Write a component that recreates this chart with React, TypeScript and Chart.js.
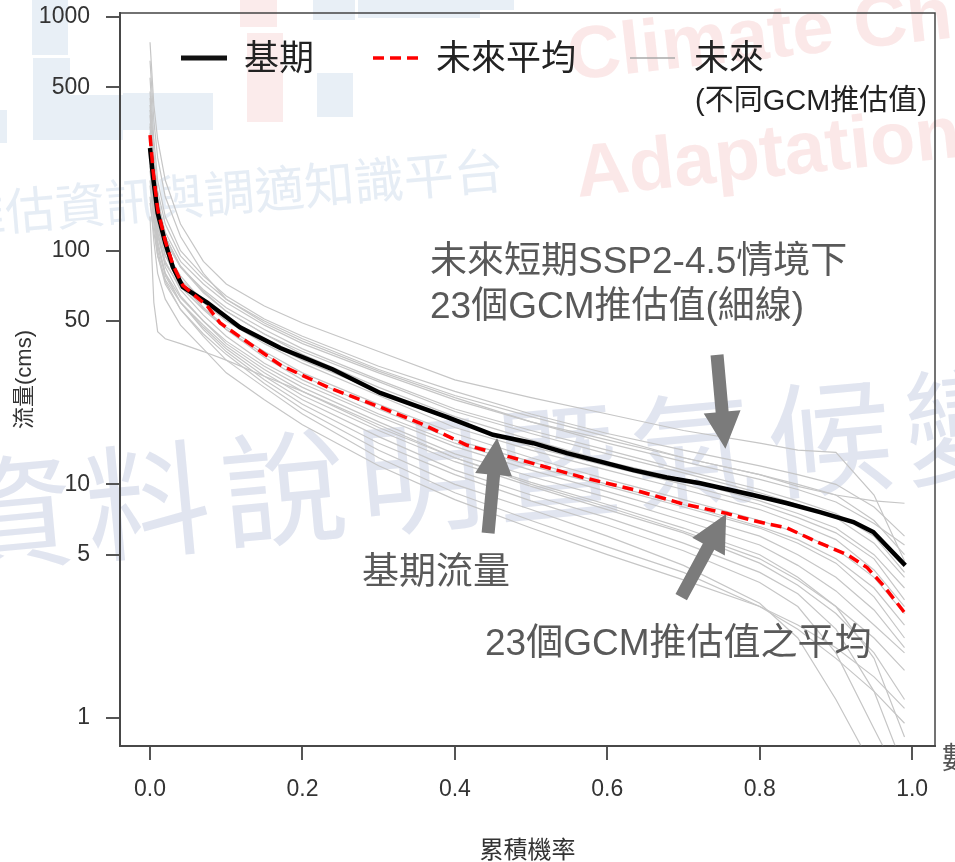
import React, { useEffect, useRef } from "react";
import { Chart, registerables } from "chart.js";
Chart.register(...registerables);

const FONT = '"Liberation Sans", Arial, "Noto Sans CJK TC", sans-serif';

// ---- axes ----
const xTicks = [0, 0.2, 0.4, 0.6, 0.8, 1.0];
const yTicks = [1, 5, 10, 50, 100, 500, 1000];

// ---- baseline (基期) ----
const baseX = [0, 0.004, 0.01, 0.02, 0.03, 0.043, 0.075, 0.118, 0.171, 0.24, 0.302, 0.39, 0.45, 0.503, 0.547, 0.591, 0.634, 0.678, 0.722, 0.791, 0.836, 0.879, 0.923, 0.949, 0.991];
const baseFlow = [275, 206, 145, 108, 85, 70, 60, 47, 38.3, 31, 24.6, 19.4, 16.3, 15.0, 13.6, 12.5, 11.5, 10.7, 10.1, 9.0, 8.3, 7.6, 6.9, 6.25, 4.5];

// ---- future mean (未來平均) ----
const meanX = [0, 0.004, 0.01, 0.02, 0.03, 0.043, 0.075, 0.092, 0.171, 0.236, 0.302, 0.354, 0.416, 0.472, 0.568, 0.634, 0.696, 0.757, 0.791, 0.836, 0.879, 0.915, 0.941, 0.962, 0.991];
const meanFlow = [312, 220, 150, 110, 87, 71, 58, 49, 32.4, 25.8, 21.4, 18.3, 14.7, 13.1, 10.7, 9.5, 8.3, 7.5, 7.0, 6.5, 5.6, 5.0, 4.4, 3.7, 2.8];

// ---- 23 GCM future curves (未來, 不同GCM推估值) ----
const gcmX = [0, 0.005, 0.01, 0.02, 0.04, 0.07, 0.1, 0.15, 0.2, 0.3, 0.4, 0.5, 0.6, 0.7, 0.8, 0.85, 0.9, 0.95, 0.99];
const gcm01 = [780, 420, 300, 200, 130, 90, 72, 58, 49, 37, 28, 23.5, 20, 17, 15, 14, 13.7, 9, 4.7];
const gcm02 = [420, 250, 180, 130, 95, 75, 62, 50, 42, 31, 24, 19.5, 16, 13, 11, 9.8, 9, 8.5, 8.3];
const gcm03 = [550, 300, 200, 140, 100, 78, 64, 51, 43, 32, 25, 20, 16.5, 14, 12, 11, 10, 8, 6];
const gcm04 = [350, 220, 160, 120, 90, 72, 60, 48, 40, 30, 23, 18.5, 15.5, 13, 11, 10, 9, 7, 5];
const gcm05 = [300, 200, 150, 110, 85, 68, 57, 46, 38, 28, 21, 17, 14, 11.5, 9.5, 8.5, 7.5, 6, 4.2];
const gcm06 = [480, 260, 170, 115, 85, 66, 55, 44, 36, 26, 19.5, 15.5, 12.5, 10.5, 8.5, 7.5, 6.5, 5, 3.6];
const gcm07 = [260, 170, 125, 95, 75, 62, 52, 41, 34, 25, 18.5, 14.5, 12, 10, 8.2, 7.2, 6.2, 4.8, 3.2];
const gcm08 = [380, 210, 140, 100, 78, 60, 50, 40, 33, 24, 17.5, 14, 11.5, 9.5, 7.8, 6.8, 5.8, 4.3, 3.0];
const gcm09 = [320, 190, 130, 95, 72, 57, 47, 37, 30, 22, 16.5, 13, 10.5, 8.6, 7, 6.2, 5.3, 4, 2.8];
const gcm10 = [220, 150, 115, 88, 70, 56, 46, 36, 29, 21, 15.5, 12.5, 10, 8.2, 6.6, 5.8, 4.8, 3.6, 2.5];
const gcm11 = [450, 240, 150, 100, 74, 57, 46, 35, 28, 20, 15, 12, 9.8, 8, 6.5, 5.6, 4.6, 3.3, 2.2];
const gcm12 = [280, 170, 120, 90, 68, 53, 43, 33, 27, 19.5, 14.5, 11.5, 9.3, 7.5, 6, 5, 4, 2.9, 2.0];
const gcm13 = [200, 140, 105, 80, 63, 50, 41, 32, 26, 18.5, 13.5, 10.8, 8.8, 7, 5.5, 4.5, 3.5, 2.5, 1.9];
const gcm14 = [340, 180, 120, 85, 64, 50, 40, 31, 25, 17.5, 13, 10.2, 8.2, 6.5, 5.0, 4.0, 3.0, 2.2, 1.6];
const gcm15 = [160, 120, 95, 75, 60, 48, 39, 30, 24, 17, 12.5, 9.8, 7.8, 6.2, 4.6, 3.7, 2.8, 1.9, 1.2];
const gcm16 = [140, 60, 45, 42, 40, 37, 34, 29, 25, 18, 13, 10, 8, 6.3, 4.8, 3.9, 3.0, 1.8, 0.83];
const gcm17 = [250, 150, 105, 78, 60, 47, 38, 29, 23, 16, 11.5, 9, 7.2, 5.6, 4.2, 3.4, 2.4, 1.3, 0.6];
const gcm18 = [300, 160, 110, 80, 60, 46, 37, 28, 22, 15, 11, 8.5, 6.7, 5.2, 3.8, 3.0, 1.9, 0.9, 0.5];
const gcm19 = [190, 130, 95, 72, 56, 44, 36, 27, 21, 14, 10, 7.8, 6, 4.5, 3.1, 2.2, 1.2, 0.6, 0.4];
const gcm20 = [230, 140, 100, 74, 56, 43, 34, 26, 20, 13, 9.2, 7, 5.4, 4.2, 3.0, 2.4, 1.8, 1.3, 0.95];
const gcm21 = [170, 110, 80, 62, 48, 38, 30, 23, 18, 12, 8.6, 6.5, 5, 3.9, 3.0, 2.5, 2.0, 1.5, 1.1];
const gcm22 = [650, 360, 250, 170, 115, 80, 62, 49, 41, 30.5, 23.5, 18.5, 15, 12.5, 10.5, 9.5, 8.4, 6.8, 5.5];
const gcm23 = [400, 230, 160, 115, 86, 67, 55, 44, 37, 27.5, 20.5, 16.5, 13.5, 11.2, 9.2, 8.2, 7.2, 5.6, 4.0];
const gcmSeries = [gcm01, gcm02, gcm03, gcm04, gcm05, gcm06, gcm07, gcm08, gcm09, gcm10, gcm11, gcm12, gcm13, gcm14, gcm15, gcm16, gcm17, gcm18, gcm19, gcm20, gcm21, gcm22, gcm23];

// ---- arrows, in data coordinates: [x0, y0, x1(tip), y1(tip)] ----
const arrowGCM = [0.744, 35.8, 0.755, 14.2];
const arrowBase = [0.4436, 6.19, 0.4554, 15.8];
const arrowMean = [0.697, 3.29, 0.756, 7.46];

const toPts = (xs: number[], ys: number[]) => xs.map((x, i) => ({ x, y: ys[i] }));

function drawArrow(ctx: CanvasRenderingContext2D, x0: number, y0: number, x1: number, y1: number, sw: number, hw: number, hl: number) {
  const dx = x1 - x0, dy = y1 - y0;
  const len = Math.hypot(dx, dy);
  const ux = dx / len, uy = dy / len;
  const px = -uy, py = ux;
  const bx = x1 - ux * hl, by = y1 - uy * hl;
  ctx.beginPath();
  ctx.moveTo(x0 + px * sw / 2, y0 + py * sw / 2);
  ctx.lineTo(bx + px * sw / 2, by + py * sw / 2);
  ctx.lineTo(bx + px * hw / 2, by + py * hw / 2);
  ctx.lineTo(x1, y1);
  ctx.lineTo(bx - px * hw / 2, by - py * hw / 2);
  ctx.lineTo(bx - px * sw / 2, by - py * sw / 2);
  ctx.lineTo(x0 - px * sw / 2, y0 - py * sw / 2);
  ctx.closePath();
  ctx.fill();
}

const watermarkPlugin = {
  id: "watermark",
  beforeDraw(chart: any) {
    const ctx = chart.ctx as CanvasRenderingContext2D;
    ctx.save();
    // logo blocks
    ctx.fillStyle = "rgba(205,220,235,0.45)";
    [[32, 0, 36, 55], [33, 58, 37, 82], [70, 95, 53, 45], [123, 93, 90, 37], [0, 110, 7, 33], [317, 73, 36, 44], [313, 0, 42, 20], [358, 0, 122, 18], [480, 0, 34, 10]].forEach((r) => ctx.fillRect(r[0], r[1], r[2], r[3]));
    ctx.fillStyle = "rgba(245,205,205,0.4)";
    [[240, 0, 37, 27], [247, 33, 36, 89]].forEach((r) => ctx.fillRect(r[0], r[1], r[2], r[3]));
    // red english watermark
    ctx.fillStyle = "rgba(246,200,200,0.42)";
    ctx.font = 'bold 74px "Liberation Sans Narrow", "Liberation Sans", sans-serif';
    ctx.textAlign = "left";
    ctx.textBaseline = "alphabetic";
    ctx.save();
    ctx.translate(570, 80);
    ctx.rotate(-0.11);
    ctx.fillText("Climate Cha", 0, 0);
    ctx.restore();
    ctx.save();
    ctx.translate(578, 197);
    ctx.rotate(-0.105);
    ctx.fillText("Adaptation", 0, 0);
    ctx.restore();
    // chinese platform watermark
    ctx.fillStyle = "rgba(200,215,232,0.45)";
    ctx.font = '50px "Noto Sans CJK TC", sans-serif';
    ctx.save();
    ctx.translate(505, 188);
    ctx.rotate(-0.085);
    ctx.textAlign = "right";
    ctx.fillText("臺灣氣候變遷推估資訊與調適知識平台", 0, 0);
    ctx.restore();
    // big watermark
    ctx.fillStyle = "rgba(196,203,226,0.5)";
    ctx.font = '125px "Noto Sans CJK TC", sans-serif';
    (ctx as any).letterSpacing = "12px";
    ctx.save();
    ctx.translate(-47, 566);
    ctx.rotate(-0.092);
    ctx.textAlign = "left";
    ctx.fillText("資料說明暨氣候變遷", 0, 0);
    ctx.restore();
    (ctx as any).letterSpacing = "0px";
    ctx.restore();
  },
};

const overlayPlugin = {
  id: "overlay",
  afterDraw(chart: any) {
    const ctx = chart.ctx as CanvasRenderingContext2D;
    const a = chart.chartArea;
    const xs = chart.scales.x, ys = chart.scales.y;
    ctx.save();
    // box
    ctx.strokeStyle = "#444";
    ctx.lineWidth = 1.5;
    ctx.strokeRect(a.left, a.top, a.right - a.left, a.bottom - a.top);

    // legend
    ctx.lineCap = "butt";
    ctx.strokeStyle = "#111";
    ctx.lineWidth = 5;
    ctx.beginPath(); ctx.moveTo(181, 58); ctx.lineTo(227, 58); ctx.stroke();
    ctx.strokeStyle = "#ff0000";
    ctx.lineWidth = 3.5;
    ctx.setLineDash([11, 6]);
    ctx.beginPath(); ctx.moveTo(373, 58); ctx.lineTo(418, 58); ctx.stroke();
    ctx.setLineDash([]);
    ctx.strokeStyle = "#a8a8a8";
    ctx.lineWidth = 1.5;
    ctx.beginPath(); ctx.moveTo(630, 58); ctx.lineTo(675, 58); ctx.stroke();

    ctx.fillStyle = "#222";
    ctx.textBaseline = "alphabetic";
    ctx.textAlign = "left";
    ctx.font = '35px ' + FONT;
    ctx.fillText("基期", 244, 70);
    ctx.fillText("未來平均", 436, 70);
    ctx.fillText("未來", 694, 70);
    ctx.font = '29px ' + FONT;
    ctx.textAlign = "right";
    ctx.fillText("(不同GCM推估值)", 927, 110);

    // annotations
    ctx.fillStyle = "#595959";
    ctx.textAlign = "left";
    ctx.font = '37px ' + FONT;
    ctx.fillText("未來短期SSP2-4.5情境下", 430, 273);
    ctx.fillText("23個GCM推估值(細線)", 430, 318);
    ctx.fillText("基期流量", 362, 584);
    ctx.fillText("23個GCM推估值之平均", 485, 655);

    // arrows
    ctx.fillStyle = "#7b7b7b";
    [arrowGCM, arrowBase, arrowMean].forEach((ar) => {
      drawArrow(ctx, xs.getPixelForValue(ar[0]), ys.getPixelForValue(ar[1]), xs.getPixelForValue(ar[2]), ys.getPixelForValue(ar[3]), 13, 37, 37);
    });

    // axis titles
    ctx.fillStyle = "#333";
    ctx.font = '24px ' + FONT;
    ctx.textAlign = "center";
    ctx.fillText("累積機率", (a.left + a.right) / 2, 858);
    ctx.save();
    ctx.translate(31, (a.top + a.bottom) / 2);
    ctx.rotate(-Math.PI / 2);
    ctx.font = '22px ' + FONT;
    ctx.fillText("流量(cms)", 0, 0);
    ctx.restore();
    // clipped neighbouring text at right edge
    ctx.fillStyle = "#555";
    ctx.font = '30px ' + FONT;
    ctx.textAlign = "left";
    ctx.fillText("數", 942, 768);
    ctx.restore();
  },
};

export default function App() {
  const ref = useRef<HTMLCanvasElement | null>(null);
  useEffect(() => {
    if (!ref.current) return;
    const datasets: any[] = [];
    datasets.push({
      data: toPts(meanX, meanFlow),
      borderColor: "#ff0000",
      borderWidth: 3.5,
      borderDash: [11, 6],
      pointRadius: 0,
      tension: 0,
      order: 0,
    });
    datasets.push({
      data: toPts(baseX, baseFlow),
      borderColor: "#000000",
      borderWidth: 4.5,
      pointRadius: 0,
      tension: 0,
      order: 1,
    });
    gcmSeries.forEach((s) => {
      datasets.push({
        data: toPts(gcmX, s),
        borderColor: "#c6c6c6",
        borderWidth: 1.2,
        pointRadius: 0,
        tension: 0,
        order: 2,
      });
    });
    const chart = new Chart(ref.current, {
      type: "line",
      data: { datasets },
      options: {
        animation: false,
        responsive: false,
        maintainAspectRatio: false,
        layout: { padding: { left: 0, right: 20, top: 13, bottom: 0 } },
        plugins: { legend: { display: false }, tooltip: { enabled: false } },
        scales: {
          x: {
            type: "linear",
            min: -0.0394,
            max: 1.03,
            afterBuildTicks: (s: any) => { s.ticks = xTicks.map((v) => ({ value: v })); },
            afterFit: (s: any) => { s.height = 116; s.paddingLeft = 0; s.paddingRight = 0; },
            grid: { drawOnChartArea: false, drawTicks: true, tickLength: 14, color: "#555", lineWidth: 2 },
            border: { display: true, color: "#555", width: 2 },
            ticks: {
              font: { family: FONT, size: 23, lineHeight: 1 },
              color: "#333",
              padding: 18,
              maxRotation: 0,
              autoSkip: false,
              callback: (v: any) => Number(v).toFixed(1),
            },
          },
          y: {
            type: "logarithmic",
            min: 0.759,
            max: 1040,
            afterBuildTicks: (s: any) => { s.ticks = yTicks.map((v) => ({ value: v })); },
            afterFit: (s: any) => { s.width = 120; s.paddingTop = 0; s.paddingBottom = 0; },
            grid: { drawOnChartArea: false, drawTicks: true, tickLength: 14, color: "#555", lineWidth: 2 },
            border: { display: true, color: "#555", width: 2 },
            ticks: {
              font: { family: FONT, size: 23, lineHeight: 1 },
              color: "#333",
              padding: 16,
              autoSkip: false,
              callback: (v: any) => String(v),
            },
          },
        },
      },
      plugins: [watermarkPlugin, overlayPlugin],
    } as any);
    return () => chart.destroy();
  }, []);
  return (
    <div style={{ position: "fixed", left: 0, top: 0, width: 955, height: 862, background: "#fff" }}>
      <canvas ref={ref} width={955} height={862} style={{ display: "block", width: 955, height: 862 }} />
    </div>
  );
}
